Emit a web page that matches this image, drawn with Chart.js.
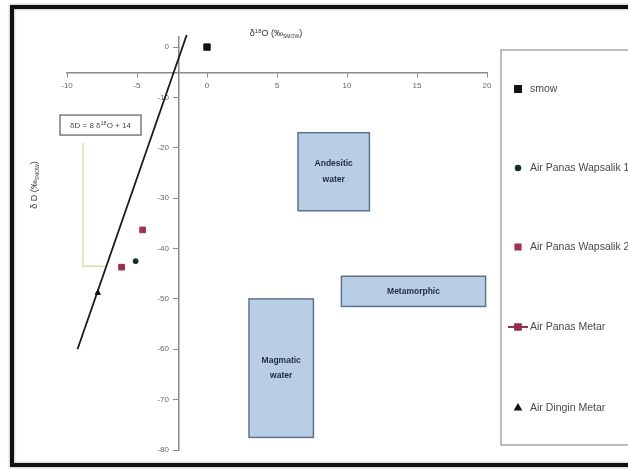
<!DOCTYPE html>
<html>
<head>
<meta charset="utf-8">
<script src="https://cdn.jsdelivr.net/npm/chart.js@4/dist/chart.umd.min.js"></script>
<style>
  html, body { margin: 0; padding: 0; background: #fff; }
  #wrap { position: relative; width: 628px; height: 473px; }
  canvas { display: block; }
</style>
</head>
<body>
<div id="wrap"><canvas id="c" width="628" height="473"></canvas></div>
<script>
// Stable isotope samples (δ18O, δD in ‰ SMOW)
const seriesNames = ['smow', 'Air Panas Wapsalik 1', 'Air Panas Wapsalik 2', 'Air Panas Metar', 'Air Dingin Metar'];
const smow = [{ x: 0, y: 0 }];
const wapsalik1 = [{ x: -5.1, y: -42.5 }];
const wapsalik2 = [{ x: -4.6, y: -36.3 }];
const panasMetar = [{ x: -6.1, y: -43.7 }];
const dinginMetar = [{ x: -7.8, y: -48.8 }];

// Local meteoric water line δD = 8 δ18O + 14, end points
const meteoricLine = [{ x: -9.25, y: -60 }, { x: -1.45, y: 2.4 }];

// Axis ticks
const xTicks = [-10, -5, 0, 5, 10, 15, 20];
const yTicks = [0, -10, -20, -30, -40, -50, -60, -70, -80];

// Reference water fields: δ18O range and δD range
const fieldNames = [['Andesitic', 'water'], ['Metamorphic'], ['Magmatic', 'water']];
const fieldX = [[6.5, 11.6], [9.6, 19.9], [3.0, 7.6]];
const fieldY = [[-17, -32.5], [-45.5, -51.5], [-50, -77.5]];

const FONT = '"Liberation Sans", Arial, sans-serif';
const tickGray = '#666';

// draws a run of text pieces with super/subscripts
function richText(ctx, parts, x, y, align) {
  let w = 0;
  parts.forEach(p => { ctx.font = p.s + 'px ' + FONT; w += ctx.measureText(p.t).width; });
  let cx = align === 'center' ? x - w / 2 : x;
  ctx.textAlign = 'left';
  ctx.textBaseline = 'middle';
  parts.forEach(p => {
    ctx.font = p.s + 'px ' + FONT;
    ctx.fillText(p.t, cx, y + (p.dy || 0));
    cx += ctx.measureText(p.t).width;
  });
}

const decor = {
  id: 'decor',
  beforeDatasetsDraw(chart) {
    const { ctx, scales: { x, y } } = chart;
    ctx.save();
    // water fields
    fieldNames.forEach((lines, i) => {
      const l = x.getPixelForValue(fieldX[i][0]), r = x.getPixelForValue(fieldX[i][1]);
      const t = y.getPixelForValue(fieldY[i][0]), b = y.getPixelForValue(fieldY[i][1]);
      ctx.fillStyle = '#b9cde5';
      ctx.fillRect(l, t, r - l, b - t);
      ctx.strokeStyle = '#5b7293';
      ctx.lineWidth = 1.5;
      ctx.strokeRect(l, t, r - l, b - t);
      ctx.fillStyle = '#1e2a44';
      ctx.font = 'bold 8.5px ' + FONT;
      ctx.textAlign = 'center';
      ctx.textBaseline = 'middle';
      const cx = (l + r) / 2, cy = (t + b) / 2, lh = 15.5;
      lines.forEach((s, k) => ctx.fillText(s, cx, cy + (k - (lines.length - 1) / 2) * lh));
    });

    // y tick labels, set left of the vertical axis
    const axisX = x.getPixelForValue(-2);
    ctx.fillStyle = tickGray;
    ctx.font = '8px ' + FONT;
    ctx.textAlign = 'right';
    ctx.textBaseline = 'middle';
    yTicks.forEach(v => ctx.fillText(String(v), axisX - 10, y.getPixelForValue(v)));

    // callout connector for the meteoric water line label
    ctx.strokeStyle = '#dcdca6';
    ctx.lineWidth = 1.5;
    ctx.beginPath();
    ctx.moveTo(x.getPixelForValue(-8.86), y.getPixelForValue(-19));
    ctx.lineTo(x.getPixelForValue(-8.86), y.getPixelForValue(-43.5));
    ctx.lineTo(x.getPixelForValue(-7.2), y.getPixelForValue(-43.5));
    ctx.stroke();

    // callout box
    const bx = x.getPixelForValue(-10.5), by = y.getPixelForValue(-13.5);
    ctx.fillStyle = '#fff';
    ctx.fillRect(bx, by, 81, 20);
    ctx.strokeStyle = '#7a7a7a';
    ctx.lineWidth = 1.5;
    ctx.strokeRect(bx, by, 81, 20);
    ctx.fillStyle = '#444';
    richText(ctx, [
      { t: 'δD = 8 δ', s: 8 }, { t: '18', s: 5.5, dy: -2.5 }, { t: 'O + 14', s: 8 }
    ], bx + 40.5, by + 10.5, 'center');
    ctx.restore();
  },
  afterDraw(chart) {
    const { ctx } = chart;
    ctx.save();
    // axis titles
    ctx.fillStyle = '#333';
    richText(ctx, [
      { t: 'δ', s: 9 }, { t: '18', s: 6, dy: -3 }, { t: 'O (‰', s: 9 }, { t: 'SMOW', s: 5, dy: 2.5 }, { t: ')', s: 9 }
    ], 276, 34, 'center');
    ctx.save();
    ctx.translate(35, 185);
    ctx.rotate(-Math.PI / 2);
    richText(ctx, [
      { t: 'δ D (‰', s: 9 }, { t: 'SMOW', s: 5, dy: 2.5 }, { t: ')', s: 9 }
    ], 0, 0, 'center');
    ctx.restore();

    // legend panel
    ctx.strokeStyle = '#a6a6a6';
    ctx.lineWidth = 1.5;
    ctx.strokeRect(501, 50, 200, 395);
    const rows = [89, 168, 247, 327, 408];
    chart.data.datasets.slice(0, seriesNames.length).forEach((ds, i) => {
      const yy = rows[i];
      if (ds.legendLine) {
        ctx.strokeStyle = ds.borderColor;
        ctx.lineWidth = 2;
        ctx.beginPath();
        ctx.moveTo(508, yy);
        ctx.lineTo(528, yy);
        ctx.stroke();
      }
      ctx.fillStyle = ds.backgroundColor;
      ctx.strokeStyle = ds.borderColor;
      Chart.helpers.drawPoint(ctx, {
        pointStyle: ds.pointStyle, radius: ds.pointRadius, rotation: 0, borderWidth: 1
      }, 518, yy);
      ctx.fillStyle = '#4a4a4a';
      ctx.font = '10.5px ' + FONT;
      ctx.textAlign = 'left';
      ctx.textBaseline = 'middle';
      ctx.fillText(ds.label, 530, yy + 0.5);
    });

    // outer frame
    ctx.shadowColor = 'rgba(0,0,0,0.4)';
    ctx.shadowBlur = 3;
    ctx.strokeStyle = '#111';
    ctx.lineWidth = 4;
    ctx.strokeRect(12, 7, 660, 458);
    ctx.restore();
  }
};

const axisGray = '#8a8a8a';

new Chart(document.getElementById('c'), {
  type: 'scatter',
  data: {
    datasets: [
      { label: seriesNames[0], data: smow, pointStyle: 'rect', pointRadius: 4.5,
        backgroundColor: '#111', borderColor: '#111' },
      { label: seriesNames[1], data: wapsalik1, pointStyle: 'circle', pointRadius: 2.5,
        backgroundColor: '#10302c', borderColor: '#10302c' },
      { label: seriesNames[2], data: wapsalik2, pointStyle: 'rect', pointRadius: 4,
        backgroundColor: '#a3304f', borderColor: '#a3304f' },
      { label: seriesNames[3], data: panasMetar, pointStyle: 'rect', pointRadius: 4,
        backgroundColor: '#9a2c4a', borderColor: '#9a2c4a', legendLine: true },
      { label: seriesNames[4], data: dinginMetar, pointStyle: 'triangle', pointRadius: 3,
        backgroundColor: '#111', borderColor: '#111' },
      { label: 'MWL', data: meteoricLine, showLine: true, borderColor: '#1a1a1a',
        borderWidth: 1.8, pointRadius: 0, clip: false }
    ]
  },
  options: {
    responsive: false,
    animation: false,
    devicePixelRatio: 1,
    layout: { padding: { left: 67, right: 141, top: 37, bottom: 23 } },
    plugins: { legend: { display: false }, tooltip: { enabled: false } },
    scales: {
      x: {
        type: 'linear', min: -10, max: 20, position: { y: -5 },
        afterBuildTicks: s => { s.ticks = xTicks.map(v => ({ value: v })); },
        grid: { drawOnChartArea: false, drawTicks: true, tickLength: 4, color: axisGray, lineWidth: 1 },
        border: { color: axisGray, width: 1.5 },
        ticks: { padding: 5, color: tickGray, font: { size: 8, family: FONT }, autoSkip: false, maxRotation: 0 }
      },
      y: {
        type: 'linear', min: -80, max: 2, position: { x: -2 },
        afterBuildTicks: s => { s.ticks = yTicks.map(v => ({ value: v })); },
        grid: { drawOnChartArea: false, drawTicks: true, tickLength: 5, color: axisGray, lineWidth: 1 },
        border: { color: axisGray, width: 1.5 },
        ticks: { display: false }
      }
    }
  },
  plugins: [decor]
});
</script>
</body>
</html>
